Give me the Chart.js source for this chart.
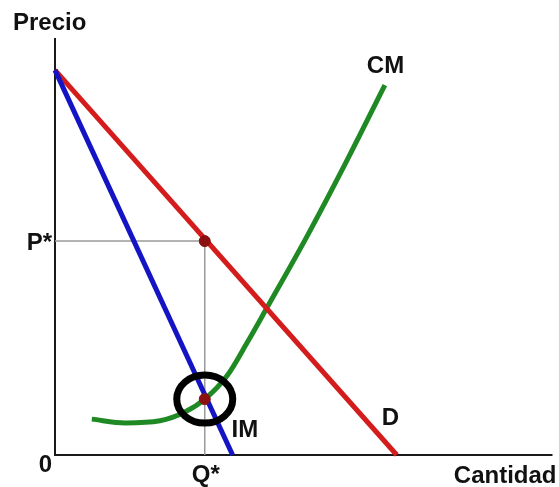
<!DOCTYPE html>
<html>
<head>
<meta charset="utf-8">
<script src="https://cdn.jsdelivr.net/npm/chart.js@4"></script>
<style>
    html, body { margin: 0; padding: 0; background: #fff; }
    #wrap { width: 559px; height: 487px; }
</style>
</head>
<body>
<div id="wrap"><canvas id="monopolyChart" width="559" height="487"></canvas></div>
<script>
// Demand (D) and marginal revenue (IM): straight lines
const demandQ = [0, 68.7];
const demandP = [92.3, 0];
const imQ = [0, 35.7];
const imP = [92.3, 0];

// Marginal cost (CM)
const cmQ = [7.4, 14.1, 21.1, 26.1, 30.1, 34.7, 38.6, 42.6, 50.6, 58.2, 66.3];
const cmP = [8.6, 7.7, 8.2, 10.3, 13.4, 19.2, 26.9, 35.3, 52.3, 69.5, 88.7];

// Monopoly optimum
const qStar = 30.1;
const pStar = 51.3;
const cmAtQStar = 13.4;

const toPoints = (xs, ys) => xs.map((v, i) => ({ x: v, y: ys[i] }));

const FONT = 'bold 24px "Liberation Sans", Arial, sans-serif';

const decorPlugin = {
    id: 'decor',
    beforeDatasetsDraw(chart) {
        const { ctx, chartArea: a } = chart;
        ctx.save();
        ctx.strokeStyle = '#1a1a1a';
        ctx.lineWidth = 2;
        ctx.beginPath();
        ctx.moveTo(a.left, a.top);
        ctx.lineTo(a.left, a.bottom);
        ctx.lineTo(a.right, a.bottom);
        ctx.stroke();
        ctx.restore();
    },
    afterDatasetsDraw(chart) {
        const { ctx, chartArea: a, scales: { x, y } } = chart;
        ctx.save();

        // circle round the CM = IM point
        const cx = x.getPixelForValue(qStar);
        const cy = y.getPixelForValue(cmAtQStar);
        ctx.strokeStyle = '#000';
        ctx.lineWidth = 7;
        ctx.beginPath();
        ctx.ellipse(cx, cy, 28, 24, 0, 0, Math.PI * 2);
        ctx.stroke();

        ctx.fillStyle = '#111';
        ctx.font = FONT;
        ctx.textBaseline = 'alphabetic';

        ctx.textAlign = 'left';
        ctx.fillText('Precio', a.left - 42, a.top - 8);
        const cmEnd = cmQ.length - 1;
        ctx.fillText('CM', x.getPixelForValue(cmQ[cmEnd]) - 18, y.getPixelForValue(cmP[cmEnd]) - 12);
        ctx.fillText('IM', x.getPixelForValue(imQ[1]) - 1, a.bottom - 18);
        ctx.fillText('D', x.getPixelForValue(demandQ[1]) - 15, a.bottom - 30);

        ctx.textAlign = 'right';
        ctx.fillText('P*', a.left - 3, y.getPixelForValue(pStar) + 9);
        ctx.fillText('0', a.left - 3, a.bottom + 17);
        ctx.fillText('Cantidad', a.right + 4, a.bottom + 28);

        ctx.textAlign = 'center';
        ctx.fillText('Q*', x.getPixelForValue(qStar) + 1, a.bottom + 27);

        ctx.restore();
    }
};

new Chart(document.getElementById('monopolyChart'), {
    type: 'line',
    data: {
        datasets: [
            {
                type: 'scatter',
                data: [{ x: qStar, y: pStar }, { x: qStar, y: cmAtQStar }],
                backgroundColor: '#8b1010',
                borderColor: '#8b1010',
                pointRadius: 5.5,
                order: 0,
                clip: false
            },
            {
                data: toPoints(imQ, imP),
                borderColor: '#1414c4',
                borderWidth: 5,
                pointRadius: 0,
                order: 1,
                clip: false
            },
            {
                data: toPoints(demandQ, demandP),
                borderColor: '#d41c1c',
                borderWidth: 5,
                pointRadius: 0,
                order: 2,
                clip: false
            },
            {
                data: toPoints(cmQ, cmP),
                borderColor: '#1f8a24',
                borderWidth: 5,
                pointRadius: 0,
                cubicInterpolationMode: 'monotone',
                order: 3,
                clip: false
            },
            {
                data: [{ x: 0, y: pStar }, { x: qStar, y: pStar }, { x: qStar, y: 0 }],
                borderColor: '#9a9a9a',
                borderWidth: 1.5,
                pointRadius: 0,
                order: 4,
                clip: false
            }
        ]
    },
    options: {
        responsive: false,
        animation: false,
        layout: { padding: { left: 55, right: 6, top: 38, bottom: 32 } },
        scales: {
            x: { type: 'linear', min: 0, max: 100, display: false },
            y: { type: 'linear', min: 0, max: 100, display: false }
        },
        plugins: {
            legend: { display: false },
            tooltip: { enabled: false }
        }
    },
    plugins: [decorPlugin]
});
</script>
</body>
</html>
